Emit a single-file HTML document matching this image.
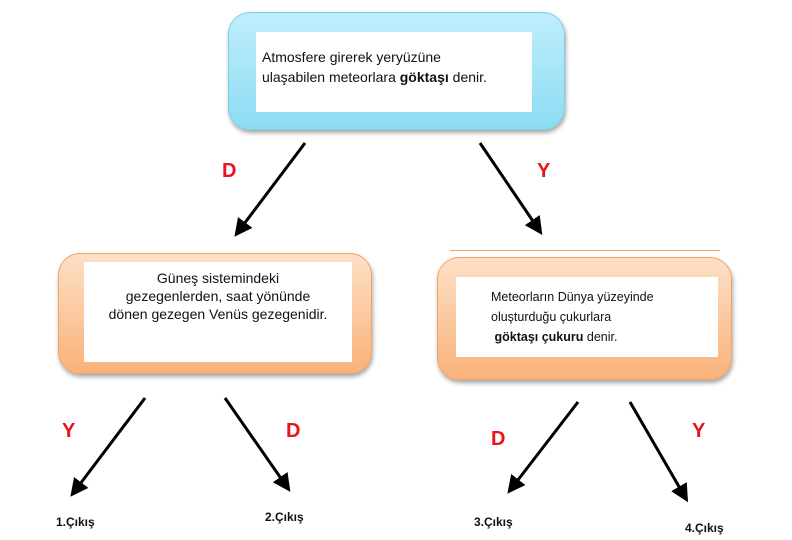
<!DOCTYPE html><html><head><meta charset="utf-8"><style>
body{margin:0;width:792px;height:540px;background:#fff;position:relative;overflow:hidden;font-family:"Liberation Sans",sans-serif}
.b{position:absolute;border-radius:22px;box-shadow:1px 3px 4px rgba(0,0,0,.35)}
.blue{background:linear-gradient(#bfeefc,#8ddcf3);border:1px solid #7fcde6}
.or{background:linear-gradient(#fde0c6,#f9b27a);border:1px solid #f0a468}
.w{position:absolute;background:#fff}
.t{position:absolute;font-size:13px;color:#111;line-height:19px}
.l{position:absolute;color:#e8141a;font-weight:bold;font-size:20px}
.e{position:absolute;font-weight:bold;font-size:12px;color:#111}
</style></head><body>
<div class="b blue" style="left:228px;top:12px;width:335px;height:116px"></div>
<div class="w" style="left:256px;top:32px;width:276px;height:80px"></div>
<div class="t" style="left:262px;top:47px;font-size:14px;line-height:20px">Atmosfere girerek yeryüzüne<br>ulaşabilen meteorlara <b>göktaşı</b> denir.</div>
<div class="b or" style="left:58px;top:253px;width:312px;height:119px"></div>
<div class="w" style="left:84px;top:262px;width:268px;height:100px"></div>
<div class="t" style="left:84px;top:269px;width:268px;text-align:center;font-size:14px;line-height:18px">Güneş sistemindeki<br>gezegenlerden, saat yönünde<br>dönen gezegen Venüs gezegenidir.</div>
<div style="position:absolute;left:450px;top:250px;width:270px;border-top:1px solid #f0a468"></div>
<div class="b or" style="left:437px;top:257px;width:293px;height:121px"></div>
<div class="w" style="left:456px;top:277px;width:262px;height:80px"></div>
<div class="t" style="left:491px;top:287px;font-size:12.5px;line-height:20px">Meteorların Dünya yüzeyinde<br>oluşturduğu çukurlara<br>&nbsp;<b>göktaşı çukuru</b> denir.</div>
<svg width="792" height="540" style="position:absolute;left:0;top:0">
<defs><marker id="a" markerWidth="6" markerHeight="6" refX="4" refY="3" orient="auto"><path d="M0,0L6,3L0,6z" fill="#000"/></marker></defs>
<g stroke="#000" stroke-width="3" marker-end="url(#a)">
<line x1="305" y1="143" x2="238" y2="232"/><line x1="480" y1="143" x2="539" y2="230"/>
<line x1="145" y1="398" x2="74" y2="492"/><line x1="225" y1="398" x2="287" y2="487"/>
<line x1="578" y1="402" x2="511" y2="489"/><line x1="630" y1="402" x2="685" y2="497"/>
</g></svg>
<div class="l" style="left:222px;top:160px">D</div>
<div class="l" style="left:537px;top:160px">Y</div>
<div class="l" style="left:62px;top:420px">Y</div>
<div class="l" style="left:286px;top:420px">D</div>
<div class="l" style="left:491px;top:428px">D</div>
<div class="l" style="left:692px;top:420px">Y</div>
<div class="e" style="left:56px;top:515px">1.Çıkış</div>
<div class="e" style="left:265px;top:510px">2.Çıkış</div>
<div class="e" style="left:474px;top:515px">3.Çıkış</div>
<div class="e" style="left:685px;top:521px">4.Çıkış</div>
</body></html>
